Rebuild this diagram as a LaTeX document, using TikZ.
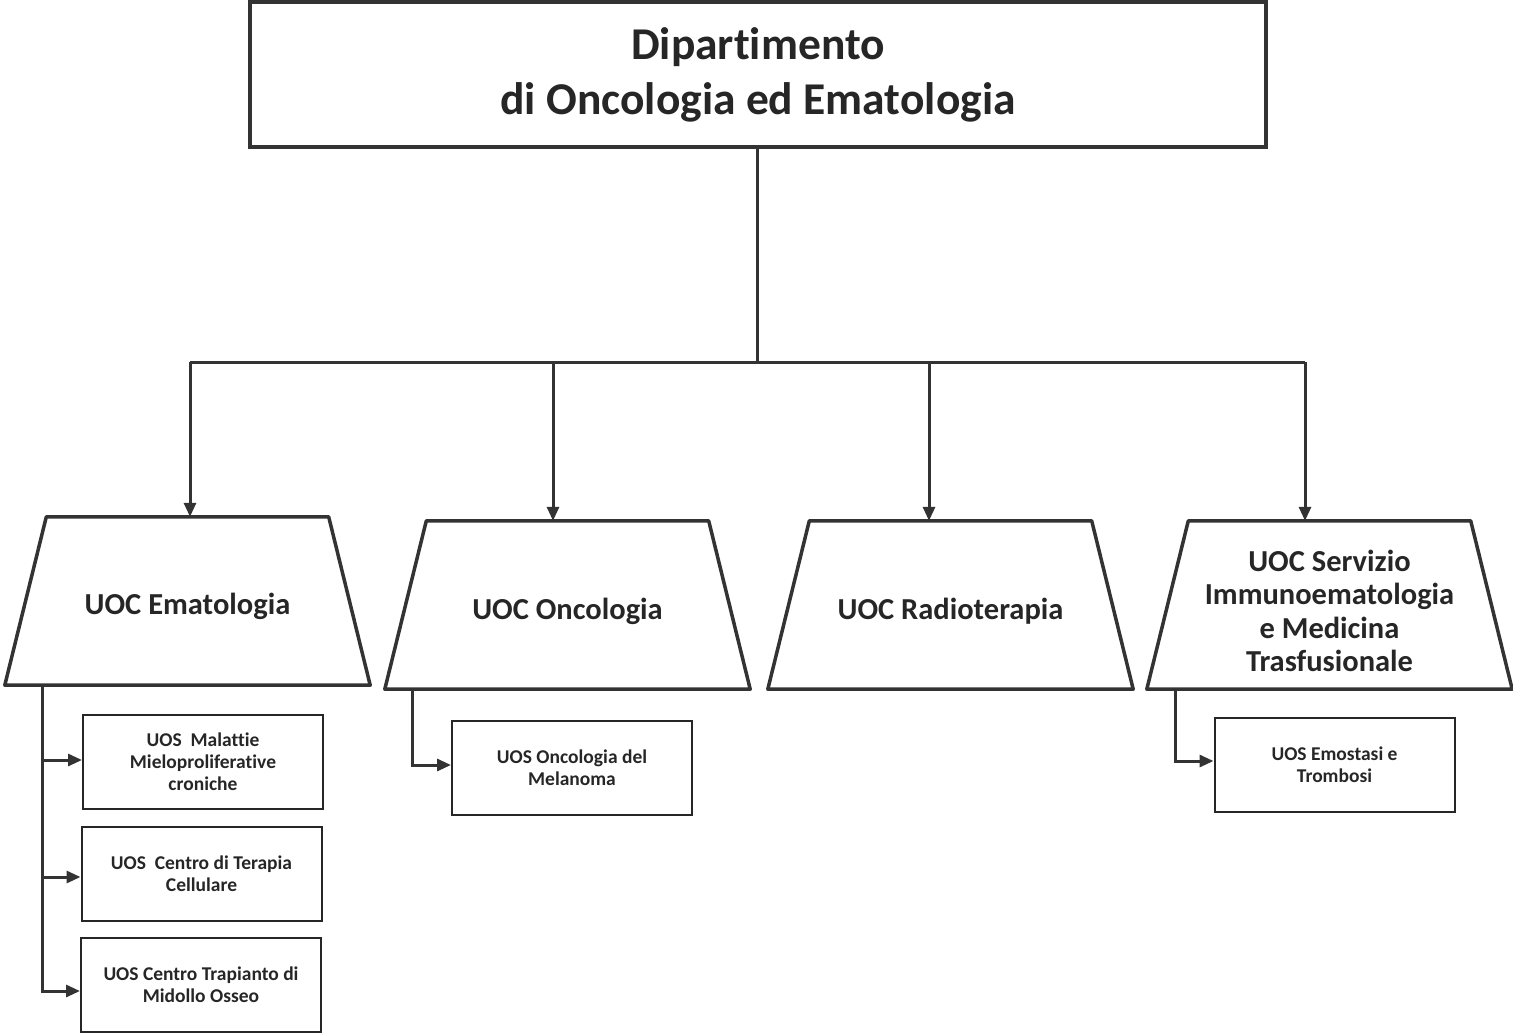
\documentclass[tikz,border=0pt]{standalone}
\usepackage{fontspec}
\setmainfont{Carlito}[Ligatures={NoCommon}]
\usetikzlibrary{arrows.meta,calc}
\begin{document}
\begin{tikzpicture}[x=1pt,y=-1pt,
  txt/.style={text=black!85, font=\bfseries, align=center},
  topbox/.style={draw=black!80, line width=3.5pt, minimum width=1016pt, minimum height=145pt, inner sep=0pt, txt, font=\bfseries\fontsize{45.5}{55}\selectfont},
  trapbox/.style={minimum width=365pt, minimum height=168pt, inner sep=0pt},
  traptext/.style={txt, inner sep=0pt, font=\bfseries\fontsize{30.5}{33.5}\selectfont},
  trapline/.style={draw=black!80, line width=3.5pt, line join=round},
  uosbox/.style={draw=black!85, line width=2pt, minimum width=240pt, minimum height=94pt, inner sep=0pt, txt, font=\bfseries\fontsize{19.5}{22}\selectfont},
  conn/.style={draw=black!80, line width=3pt},
  arr/.style={conn, -{Triangle[length=14pt,width=12pt]}},
  sarr/.style={conn, -{Triangle[length=14pt,width=12pt]}}
]
\useasboundingbox (0,0) rectangle (1513,1034);

% top box
\node[topbox] (dep) at (758,74.5) {Dipartimento\\di Oncologia ed Ematologia};

% trapezoid nodes
\node[trapbox] (t1) at (187.5,601) {};
\node[trapbox] (t2) at (567.5,605) {};
\node[trapbox] (t3) at (950.5,605) {};
\node[trapbox] (t4) at (1329.5,605) {};
\foreach \t in {t1,t2,t3,t4}{
  \draw[trapline] (\t.south west) -- (\t.south east) -- ([xshift=-41.5pt]\t.north east) -- ([xshift=41.5pt]\t.north west) -- cycle;
}
\node[traptext] (l1) at ($(t1)+(0,5)$) {UOC Ematologia};
\node[traptext] (l2) at ($(t2)+(0,6)$) {UOC Oncologia};
\node[traptext] (l3) at ($(t3)+(0,6)$) {UOC Radioterapia};
\node[traptext] (l4) at ($(t4)+(0,6)$) {UOC Servizio\\Immunoematologia\\e Medicina\\Trasfusionale};

% bus
\coordinate (bus) at (757,362);
\coordinate (b1) at (190,362);
\coordinate (b2) at (553,362);
\coordinate (b3) at (929,362);
\coordinate (b4) at (1305,362);
\draw[conn] (dep.south -| bus) -- (bus);
\draw[conn] (b1) -- (b4);
\draw[arr] (b1) -- (b1 |- t1.north);
\draw[arr] (b2) -- (b2 |- t2.north);
\draw[arr] (b3) -- (b3 |- t3.north);
\draw[arr] (b4) -- (b4 |- t4.north);

% UOS boxes
\node[uosbox] (u1) at (203,762) {UOS\ \ Malattie\\Mieloproliferative\\croniche};
\node[uosbox] (u2) at (201.5,873.5) {UOS\ \ Centro di Terapia\\Cellulare};
\node[uosbox] (u3) at (201,985) {UOS Centro Trapianto di\\Midollo Osseo};
\node[uosbox] (u4) at (572,768) {UOS Oncologia del\\Melanoma};
\node[uosbox] (u5) at (1334.5,764.5) {UOS Emostasi e\\Trombosi};

% sub connectors
\coordinate (s1) at (42,685);
\draw[sarr] (42,760) -- (u1.west |- 0,760);
\draw[sarr] (42,877) -- (u2.west |- 0,877);
\draw[sarr] (s1 |- t1.south) -- (42,991) -- (u3.west |- 0,991);
\coordinate (s4) at (412,689);
\draw[sarr] (s4) -- (412,765) -- (u4.west |- 0,765);
\coordinate (s5) at (1175,689);
\draw[sarr] (s5) -- (1175,761) -- (u5.west |- 0,761);
\end{tikzpicture}
\end{document}
